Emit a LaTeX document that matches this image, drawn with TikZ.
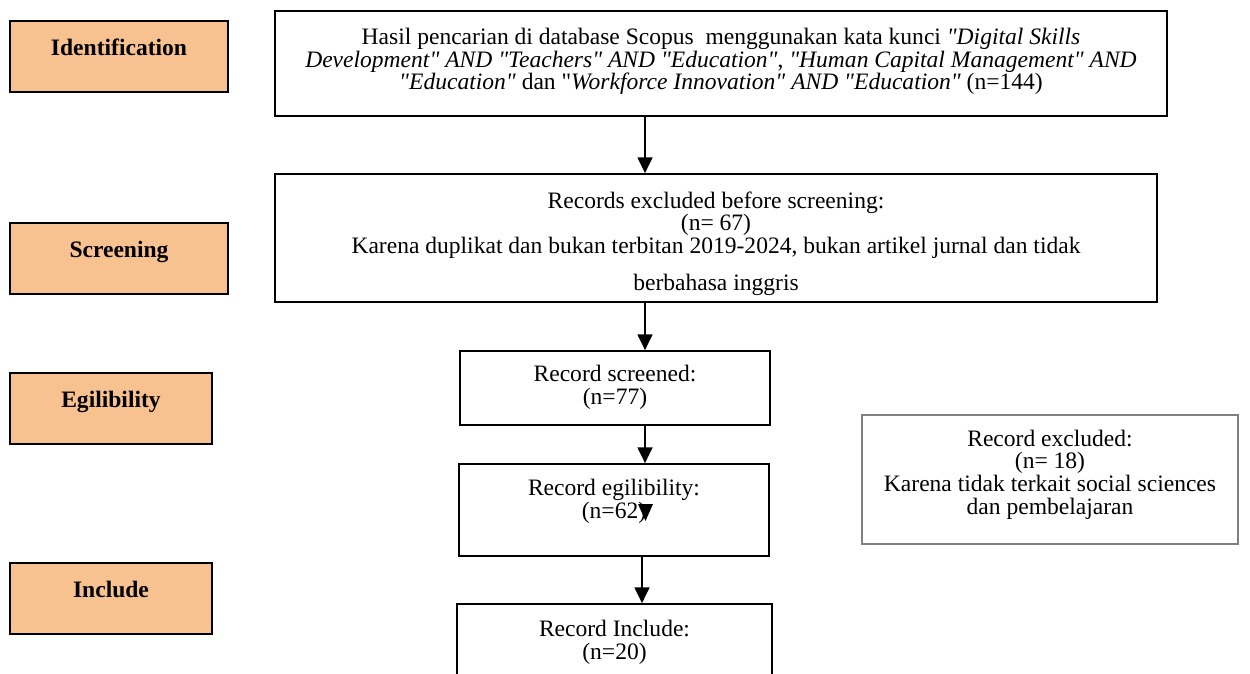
\documentclass[tikz,border=0pt]{standalone}
\usepackage{fontspec}
\newfontfamily\timesfont{Liberation Serif}
\usepackage{xcolor}
\usepackage{tikz}
\usetikzlibrary{arrows.meta, positioning}

\definecolor{stagefill}{RGB}{248,193,144}
\definecolor{exgray}{RGB}{128,128,128}

\begin{document}
\begin{tikzpicture}[
    x=0.02cm, y=-0.02cm,
    stage/.style={rectangle, draw, line width=1pt, fill=stagefill, minimum width=4.36cm, minimum height=1.42cm},
    stagetext/.style={inner sep=0pt, font=\timesfont\fontsize{13.4}{14}\selectfont\bfseries},
    box/.style={rectangle, draw, line width=1pt},
    boxtext/.style={inner sep=0pt, align=center, font=\timesfont\fontsize{13.4}{13}\selectfont},
    arrow/.style={-{Triangle[width=8.5pt, length=9pt]}, line width=1pt}
]
\useasboundingbox (0,0) rectangle (1250,673);

% Stage labels (left)
\node[stage] (idstage) at (119,56.5) {};
\node[stagetext, below=0.37cm of idstage.north] (idtext) {Identification};
\node[stage] (scrstage) at (119,258.5) {};
\node[stagetext, below=0.37cm of scrstage.north] (scrtext) {Screening};
\node[stage, minimum width=4.04cm] (eligstage) at (111,408.5) {};
\node[stagetext, below=0.37cm of eligstage.north] (eligtext) {Egilibility};
\node[stage, minimum width=4.04cm] (inclstage) at (111,598.5) {};
\node[stagetext, below=0.37cm of inclstage.north] (incltext) {Include};

% Search results
\node[box, minimum width=17.84cm, minimum height=2.1cm] (search) at (721,63.5) {};
\node[boxtext, below=0.35cm of search.north] (searchtext) {Hasil pencarian di database Scopus\ \ menggunakan kata kunci \textit{"Digital Skills}\\
\textit{Development" AND "Teachers" AND "Education"}, \textit{"Human Capital Management" AND}\\
\textit{"Education"} dan "\textit{Workforce Innovation" AND "Education"} (n=144)};

% Excluded before screening
\node[box, minimum width=17.64cm, minimum height=2.56cm] (prescreen) at (716,238) {};
\node[boxtext, below=0.36cm of prescreen.north] (prescreentext) {Records excluded before screening:\\
(n= 67)\\
Karena duplikat dan bukan terbitan 2019-2024, bukan artikel jurnal dan tidak\\[8pt]
berbahasa inggris};

% Screened, eligible, included
\node[box, minimum width=6.2cm, minimum height=1.48cm] (screened) at (615,388) {};
\node[boxtext, below=0.3cm of screened.north] (screenedtext) {Record screened:\\(n=77)};
\node[box, minimum width=6.2cm, minimum height=1.84cm] (eligible) at (614,510) {};
\node[boxtext, below=0.32cm of eligible.north] (eligibletext) {Record egilibility:\\(n=62)};
\node[box, minimum width=6.3cm, minimum height=1.92cm] (included) at (614.5,652) {};
\node[boxtext, below=0.34cm of included.north] (includedtext) {Record Include:\\(n=20)};

% Excluded records (right)
\node[box, draw=exgray, line width=0.8pt, minimum width=7.52cm, minimum height=2.58cm] (excluded) at (1050,479.5) {};
\node[boxtext, below=0.3cm of excluded.north] (excludedtext) {Record excluded:\\(n= 18)\\Karena tidak terkait social sciences\\dan pembelajaran};

% Arrows
\coordinate (axis) at (645,0);
\draw[arrow] (search.south -| axis) -- (prescreen.north -| axis);
\draw[arrow] (prescreen.south -| axis) -- (screened.north -| axis);
\draw[arrow] (screened.south -| axis) -- (eligible.north -| axis);
\draw[arrow] ([xshift=-0.06cm]eligible.south -| axis) -- ([xshift=-0.06cm]included.north -| axis);

% stray arrowhead on (n=62)
\fill (638,504) -- (653,504) -- (645.5,521) -- cycle;

\end{tikzpicture}
\end{document}
